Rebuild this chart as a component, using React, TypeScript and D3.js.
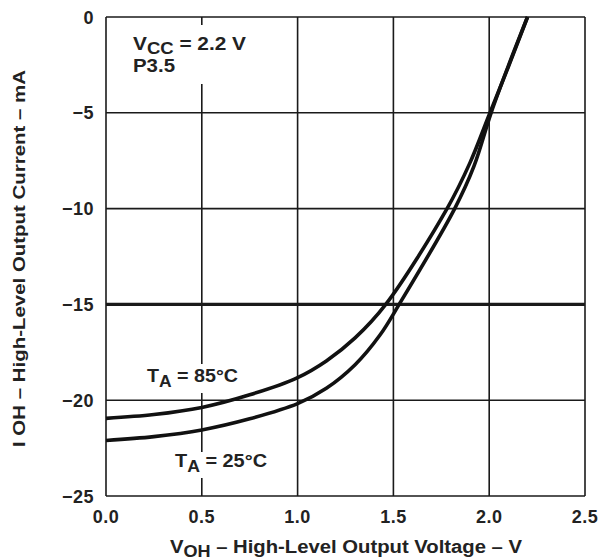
import React from "react";
import * as d3 from "d3";

const xTicks = [0, 0.5, 1.0, 1.5, 2.0, 2.5];
const yTicks = [-25, -20, -15, -10, -5, 0];

const v85 = [0, 0.25, 0.5, 0.75, 1.0, 1.15, 1.3, 1.46, 1.78, 1.9, 2.0, 2.1, 2.2];
const i85 = [-20.95, -20.75, -20.38, -19.72, -18.82, -17.95, -16.75, -15.0, -10.0, -7.6, -5.1, -2.6, 0];

const v25 = [0, 0.25, 0.5, 0.75, 1.0, 1.15, 1.3, 1.43, 1.53, 1.82, 1.92, 2.01, 2.1, 2.2];
const i25 = [-22.1, -21.9, -21.55, -20.97, -20.18, -19.38, -18.15, -16.6, -15.0, -10.0, -7.8, -5.0, -2.55, 0];

const W = 600;
const H = 560;
const FONT = "'Liberation Sans', Arial, sans-serif";

export default function App() {
  const x = d3.scaleLinear().domain([0, 2.5]).range([106, 585]);
  const y = d3.scaleLinear().domain([-25, 0]).range([496, 17]);
  const line = d3
    .line<[number, number]>()
    .x((d) => x(d[0]))
    .y((d) => y(d[1]))
    .curve(d3.curveCatmullRom.alpha(0.5));
  const d85 = line(v85.map((v, k) => [v, i85[k]] as [number, number])) || "";
  const d25 = line(v25.map((v, k) => [v, i25[k]] as [number, number])) || "";
  const fmtX = d3.format(".1f");
  const fmtY = d3.format("d");

  return (
    <svg
      width={W}
      height={H}
      style={{ position: "absolute", left: 0, top: 0, background: "#fff" }}
      fontFamily={FONT}
      fontWeight="bold"
    >
      <rect x={0} y={0} width={W} height={H} fill="#fff" />
      {/* grid */}
      {xTicks.map((t) => (
        <line key={"gx" + t} x1={x(t)} x2={x(t)} y1={y(0)} y2={y(-25)} stroke="#1a1a1a" strokeWidth={1.6} />
      ))}
      {yTicks.map((t) => (
        <line
          key={"gy" + t}
          x1={x(0)}
          x2={x(2.5)}
          y1={y(t)}
          y2={y(t)}
          stroke="#1a1a1a"
          strokeWidth={t === -15 ? 3.2 : 1.6}
        />
      ))}
      {/* label backgrounds */}
      <rect x={126} y={25} width={124} height={59} fill="#fff" />
      <rect x={143} y={364} width={98} height={29} fill="#fff" />
      <rect x={171} y={452} width={100} height={26} fill="#fff" />
      {/* curves */}
      <path d={d85} fill="none" stroke="#111" strokeWidth={3.6} />
      <path d={d25} fill="none" stroke="#111" strokeWidth={3.6} />
      {/* tick labels */}
      {xTicks.map((t) => (
        <text key={"tx" + t} x={x(t)} y={523} textAnchor="middle" fontSize={18} fill="#222" letterSpacing={0.5}>
          {fmtX(t)}
        </text>
      ))}
      {yTicks.map((t) => (
        <text key={"ty" + t} x={94} y={y(t) + 6.5} textAnchor="end" fontSize={18} fill="#222" letterSpacing={0.5}>
          {fmtY(t)}
        </text>
      ))}
      {/* annotations */}
      <text x={133} y={50} fontSize={18} fill="#222" textLength={113} lengthAdjust="spacingAndGlyphs">
        V<tspan fontSize={16} dy={4}>CC</tspan>
        <tspan dy={-4}> = 2.2 V</tspan>
      </text>
      <text x={133} y={72} fontSize={18} fill="#222" textLength={42} lengthAdjust="spacingAndGlyphs">
        P3.5
      </text>
      <text x={147} y={382} fontSize={18} fill="#222" textLength={91} lengthAdjust="spacingAndGlyphs">
        T<tspan fontSize={16} dy={5}>A</tspan>
        <tspan dy={-5}> = 85°C</tspan>
      </text>
      <text x={175} y={467} fontSize={18} fill="#222" textLength={92} lengthAdjust="spacingAndGlyphs">
        T<tspan fontSize={16} dy={5}>A</tspan>
        <tspan dy={-5}> = 25°C</tspan>
      </text>
      {/* axis titles */}
      <text x={170} y={553} fontSize={18} fill="#222" textLength={352} lengthAdjust="spacingAndGlyphs">
        V<tspan fontSize={16} dy={4}>OH</tspan>
        <tspan dy={-4}> – High-Level Output Voltage – V</tspan>
      </text>
      <text
        transform={`translate(25, 447) rotate(-90)`}
        fontSize={17}
        fill="#222"
        textLength={377}
        lengthAdjust="spacingAndGlyphs"
      >
        I OH – High-Level Output Current – mA
      </text>
    </svg>
  );
}
